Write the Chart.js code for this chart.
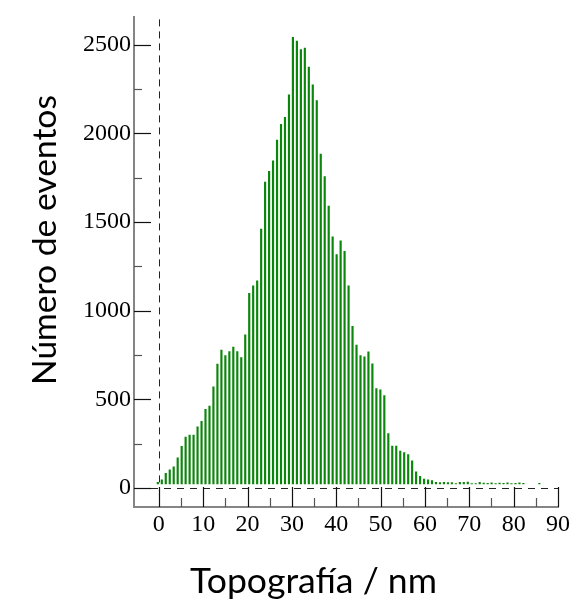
<!DOCTYPE html>
<html>
<head>
<meta charset="utf-8">
<script src="https://cdn.jsdelivr.net/npm/chart.js@4/dist/chart.umd.min.js"></script>
<style>
  html, body { margin: 0; padding: 0; background: #ffffff; }
  #wrap { position: relative; width: 573px; height: 608px; }
</style>
</head>
<body>
<div id="wrap"><canvas id="c" width="573" height="608"></canvas></div>
<script>
// ---- data ----
const binCenters = [
  -0.23, 0.67, 1.56, 2.46, 3.35, 4.25, 5.15, 6.04, 6.94, 7.83,
  8.73, 9.63, 10.52, 11.42, 12.31, 13.21, 14.11, 15.00, 15.90, 16.79,
  17.69, 18.59, 19.48, 20.38, 21.27, 22.17, 23.07, 23.96, 24.86, 25.75,
  26.65, 27.55, 28.44, 29.34, 30.23, 31.13, 32.03, 32.92, 33.82, 34.71,
  35.61, 36.51, 37.40, 38.30, 39.19, 40.09, 40.99, 41.88, 42.78, 43.67,
  44.57, 45.47, 46.36, 47.26, 48.15, 49.05, 49.95, 50.84, 51.74, 52.63,
  53.53, 54.43, 55.32, 56.22, 57.11, 58.01, 58.91, 59.80, 60.70, 61.59,
  62.49, 63.39, 64.28, 65.18, 66.07, 66.97, 67.87, 68.76, 69.66, 70.55,
  71.45, 72.35, 73.24, 74.14, 75.03, 75.93, 76.83, 77.72, 78.62, 79.51,
  80.41, 81.31, 82.20, 85.79
];
const counts = [
  31, 45, 82, 102, 119, 169, 235, 287, 298, 298,
  344, 376, 443, 461, 570, 698, 777, 746, 769, 795,
  769, 735, 864, 1098, 1140, 1168, 1461, 1726, 1786, 1845,
  1963, 2052, 2091, 2218, 2542, 2521, 2473, 2482, 2374, 2275,
  2186, 1884, 1756, 1590, 1416, 1316, 1394, 1335, 1140, 912,
  806, 746, 739, 767, 700, 560, 553, 521, 307, 236,
  236, 208, 199, 188, 153, 91, 65, 50, 45, 41,
  31, 30, 31, 30, 30, 24, 31, 31, 33, 24,
  24, 31, 27, 25, 28, 24, 27, 25, 29, 24,
  26, 28, 25, 26
];
const xMajorTicks = [0, 10, 20, 30, 40, 50, 60, 70, 80, 90];
const xMinorTicks = [5, 15, 25, 35, 45, 55, 65, 75, 85];
const yMajorTicks = [0, 500, 1000, 1500, 2000, 2500];
const yMinorTicks = [250, 750, 1250, 1750, 2250];
const xTitle = 'Topografía / nm';
const yTitle = 'Número de eventos';

// ---- decoration plugin: dashed zero lines, inward ticks, axis titles ----
const decor = {
  id: 'decor',
  beforeDatasetsDraw(chart) {
    const ctx = chart.ctx, a = chart.chartArea;
    const xs = chart.scales.x, ys = chart.scales.y;
    const y0 = ys.getPixelForValue(0), x0 = xs.getPixelForValue(0);
    ctx.save();
    ctx.strokeStyle = '#222';
    ctx.lineWidth = 1;
    ctx.setLineDash([7, 6]);
    ctx.beginPath();
    ctx.moveTo(a.left + 17, Math.round(y0) + 0.5);
    ctx.lineTo(a.right, Math.round(y0) + 0.5);
    ctx.stroke();
    ctx.setLineDash([7, 5]);
    ctx.beginPath();
    ctx.moveTo(Math.round(x0) + 0.5, a.top + 2);
    ctx.lineTo(Math.round(x0) + 0.5, y0);
    ctx.stroke();
    ctx.restore();
  },
  afterDatasetsDraw(chart) {
    const ctx = chart.ctx, a = chart.chartArea;
    const xs = chart.scales.x, ys = chart.scales.y;
    ctx.save();
    ctx.setLineDash([]);
    ctx.lineWidth = 1.2;
    yMajorTicks.forEach(v => {
      const p = Math.round(ys.getPixelForValue(v)) + 0.5;
      ctx.strokeStyle = '#111';
      ctx.beginPath(); ctx.moveTo(a.left, p); ctx.lineTo(a.left + 17, p); ctx.stroke();
    });
    yMinorTicks.forEach(v => {
      const p = Math.round(ys.getPixelForValue(v)) + 0.5;
      ctx.strokeStyle = '#555';
      ctx.beginPath(); ctx.moveTo(a.left, p); ctx.lineTo(a.left + 8, p); ctx.stroke();
    });
    xMajorTicks.forEach(v => {
      const p = Math.round(xs.getPixelForValue(v)) + 0.5;
      ctx.strokeStyle = '#111';
      ctx.beginPath(); ctx.moveTo(p, a.bottom); ctx.lineTo(p, a.bottom - 20); ctx.stroke();
    });
    xMinorTicks.forEach(v => {
      const p = Math.round(xs.getPixelForValue(v)) + 0.5;
      ctx.strokeStyle = '#555';
      ctx.beginPath(); ctx.moveTo(p, a.bottom); ctx.lineTo(p, a.bottom - 9); ctx.stroke();
    });
    ctx.restore();
  },
  afterDraw(chart) {
    const ctx = chart.ctx;
    ctx.save();
    ctx.fillStyle = '#000';
    function fit(text, target) {
      ctx.font = '36px Lato';
      const w = ctx.measureText(text).width;
      return 36 * target / w;
    }
    let fs = fit(yTitle, 290);
    ctx.font = fs.toFixed(2) + 'px Lato';
    ctx.textAlign = 'center';
    ctx.textBaseline = 'alphabetic';
    ctx.translate(56, 240);
    ctx.rotate(-Math.PI / 2);
    ctx.fillText(yTitle, 0, 0);
    ctx.setTransform(1, 0, 0, 1, 0, 0);
    fs = fit(xTitle, 247);
    ctx.font = fs.toFixed(2) + 'px Lato';
    ctx.textAlign = 'center';
    ctx.fillText(xTitle, 313.5, 593);
    ctx.restore();
  }
};

const points = binCenters.map((x, i) => ({ x: x, y: counts[i] }));

new Chart(document.getElementById('c'), {
  type: 'bar',
  data: {
    datasets: [{
      data: points,
      backgroundColor: '#0a860a',
      borderWidth: 0,
      barThickness: 1.5,
      base: 22
    }]
  },
  options: {
    responsive: false,
    animation: false,
    devicePixelRatio: 1,
    layout: { padding: { top: 12, right: 13, left: 0, bottom: 0 } },
    plugins: { legend: { display: false }, tooltip: { enabled: false } },
    scales: {
      x: {
        type: 'linear',
        min: -5.6,
        max: 90,
        offset: false,
        grid: { display: false, drawTicks: false, offset: false },
        border: { display: true, color: '#858585', width: 2 },
        ticks: {
          autoSkip: false,
          maxRotation: 0,
          padding: 3,
          color: '#000',
          font: { family: 'Liberation Serif', size: 24 },
          callback: v => String(v)
        },
        afterBuildTicks: s => { s.ticks = xMajorTicks.map(v => ({ value: v })); },
        afterFit: s => { s.height = 101; }
      },
      y: {
        type: 'linear',
        min: -108,
        max: 2655,
        grid: { display: false, drawTicks: false },
        border: { display: true, color: '#858585', width: 2 },
        ticks: {
          autoSkip: false,
          padding: 3,
          color: '#000',
          font: { family: 'Liberation Serif', size: 24 },
          callback: v => String(v)
        },
        afterBuildTicks: s => { s.ticks = yMajorTicks.map(v => ({ value: v })); },
        afterFit: s => { s.width = 134; }
      }
    }
  },
  plugins: [decor]
});
</script>
</body>
</html>
